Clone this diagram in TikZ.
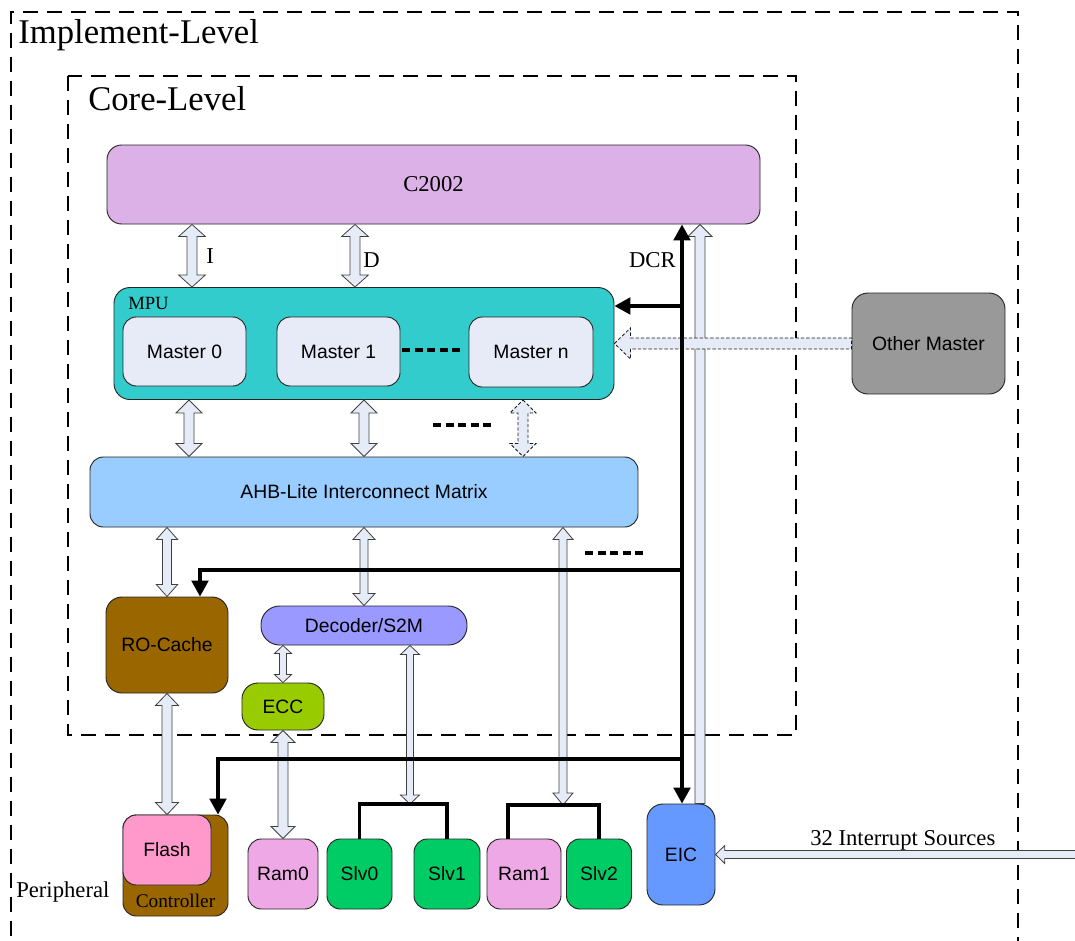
\documentclass[tikz,border=0pt]{standalone}
\usepackage{fontspec}
\setmainfont{Liberation Serif}
\setsansfont{Liberation Sans}
\usetikzlibrary{arrows.meta,calc}
\definecolor{cC}{HTML}{DCB1E7}
\definecolor{cMPU}{HTML}{33CCCC}
\definecolor{cMas}{HTML}{E6EBF7}
\definecolor{cOM}{HTML}{999999}
\definecolor{cAHB}{HTML}{99CCFF}
\definecolor{cBrown}{HTML}{996600}
\definecolor{cDec}{HTML}{9999FF}
\definecolor{cECC}{HTML}{99CC00}
\definecolor{cFlash}{HTML}{FF99CC}
\definecolor{cRam}{HTML}{EFA8E6}
\definecolor{cSlv}{HTML}{00CC66}
\definecolor{cEIC}{HTML}{6699FF}
\definecolor{cArrow}{HTML}{E6ECF7}
\newcommand\vdbl[6][]{\draw[hol,#1] let \p1=(#5),\p2=(#6) in (\x1,\y1) -- (\x1+#3,\y1-#4) -- (\x1+#2,\y1-#4) -- (\x1+#2,\y2+#4) -- (\x1+#3,\y2+#4) -- (\x1,\y2) -- (\x1-#3,\y2+#4) -- (\x1-#2,\y2+#4) -- (\x1-#2,\y1-#4) -- (\x1-#3,\y1-#4) -- cycle;}
\newcommand\vup[6][]{\draw[hol,#1] let \p1=(#5),\p2=(#6) in (\x1,\y1) -- (\x1+#3,\y1-#4) -- (\x1+#2,\y1-#4) -- (\x1+#2,\y2) -- (\x1-#2,\y2) -- (\x1-#2,\y1-#4) -- (\x1-#3,\y1-#4) -- cycle;}
\newcommand\hleft[6][]{\draw[hol,#1] let \p1=(#5),\p2=(#6) in (\x1,\y1) -- (\x1+#4,\y1+#3) -- (\x1+#4,\y1+#2) -- (\x2,\y1+#2) -- (\x2,\y1-#2) -- (\x1+#4,\y1-#2) -- (\x1+#4,\y1-#3) -- cycle;}
\begin{document}
\begin{tikzpicture}[x=0.75pt,y=-0.75pt,
  sz/.style 2 args={minimum width=#1*0.75pt, minimum height=#2*0.75pt},
  blk/.style={draw=black!85, line width=0.7pt, inner sep=0pt, font=\sffamily\fontsize{14.5}{16}\selectfont, rounded corners=10pt},
  level/.style={draw=black, line width=1.5pt, dash pattern=on 11pt off 7pt},
  hol/.style={draw=black!75, fill=cArrow, line width=0.6pt},
  dhol/.style={draw=black!90, dash pattern=on 2.5pt off 1.5pt, line width=0.6pt},
  dcr/.style={draw=black, line width=2.5pt},
  tip/.style={-{Triangle[length=12pt,width=12.5pt]}},
  dots/.style={draw=black, line width=3pt, dash pattern=on 6pt off 3.4pt},
  lbl/.style={inner sep=0pt, font=\fontsize{17}{19}\selectfont}]
\useasboundingbox (0,0) rectangle (1075,940);
% level frames
\draw[level] (11,960) -- (11,12) -- (1018,12) -- (1018,960);
\draw[level] (68,76) rectangle (796,735);
\node[lbl, anchor=base west, font=\fontsize{26}{28}\selectfont] (impl) at (18,43) {Implement-Level};
\node[lbl, anchor=base west, font=\fontsize{26}{28}\selectfont] (core) at (88,110) {Core-Level};
% blocks
\node[blk, sz={653}{79}, fill=cC, rounded corners=11pt, font=\fontsize{17}{19}\selectfont] (C2002) at (433.5,184.5) {C2002};
\node[blk, sz={500}{112}, fill=cMPU, rounded corners=12pt] (MPU) at (364,343.5) {};
\node[lbl, anchor=base west, font=\fontsize{14}{16}\selectfont] (mpul) at (128,309) {MPU};
\node[blk, sz={123}{69}, fill=cMas] (M0) at (184.5,351.5) {Master 0};
\node[blk, sz={123}{69}, fill=cMas] (M1) at (338.5,351.5) {Master 1};
\node[blk, sz={124}{70}, fill=cMas] (Mn) at (531,352) {Master n};
\node[blk, sz={153}{101}, fill=cOM, rounded corners=12pt] (OM) at (928.5,343.5) {Other Master};
\node[blk, sz={548}{70}, fill=cAHB] (AHB) at (364,492) {AHB-Lite Interconnect Matrix};
\node[blk, sz={122}{96}, fill=cBrown, rounded corners=12pt] (ROC) at (167,645) {RO-Cache};
\node[blk, sz={206}{39}, fill=cDec, rounded corners=14pt] (Dec) at (364,625.5) {Decoder/S2M};
\node[blk, sz={82}{47}, fill=cECC, rounded corners=12pt] (ECC) at (283,706.5) {ECC};
\node[blk, sz={105}{101}, fill=cBrown] (FC) at (175.5,865.5) {};
\node[blk, sz={88}{70}, fill=cFlash] (Flash) at (167,850) {Flash};
\node[inner sep=0pt, anchor=base, font=\fontsize{14.5}{16}\selectfont] (ctrl) at (175.5,907) {Controller};
\node[blk, sz={70}{70}, fill=cRam] (Ram0) at (283,874) {Ram0};
\node[blk, sz={65}{70}, fill=cSlv] (Slv0) at (359.5,874) {Slv0};
\node[blk, sz={66}{70}, fill=cSlv] (Slv1) at (447,874) {Slv1};
\node[blk, sz={74}{70}, fill=cRam] (Ram1) at (524,874) {Ram1};
\node[blk, sz={65}{70}, fill=cSlv] (Slv2) at (599,874) {Slv2};
\node[blk, sz={68}{101}, fill=cEIC, rounded corners=12pt] (EIC) at (681,854.5) {EIC};
% labels
\node[lbl, anchor=base west] (Il) at (206,263) {I};
\node[lbl, anchor=base west] (Dl) at (363,267) {D};
\node[lbl, anchor=base east] (DCRl) at (676,267) {DCR};
\node[lbl, anchor=base west] (per) at (16,897) {Peripheral};
\node[lbl, anchor=base west] (intl) at (810,845) {32 Interrupt Sources};
% helper coordinates
\coordinate (xI) at (192,0);
\coordinate (xD) at (355,0);
\coordinate (xa1) at (189,0);
\coordinate (xa2) at (364,0);
\coordinate (xa3) at (523,0);
\coordinate (xb1) at (167,0);
\coordinate (xb3) at (563,0);
\coordinate (xe) at (283,0);
\coordinate (xs) at (410,0);
\coordinate (xh) at (700,0);
\coordinate (xdcr) at (682,0);
\coordinate (xR) at (200,0);
\coordinate (xF) at (218,0);
\coordinate (xr1) at (508,0);
\coordinate (b1) at (410,804);
\coordinate (b2) at (563,805);
\coordinate (j1) at (682,306);
\coordinate (j2) at (682,570);
\coordinate (j3) at (682,759);
\coordinate (src) at (1080,855);
% hollow arrows
\vdbl{3.75pt}{10pt}{9pt}{xI |- C2002.south}{xI |- MPU.north}
\vdbl{3.75pt}{10pt}{9pt}{xD |- C2002.south}{xD |- MPU.north}
\vdbl{3.75pt}{9.75pt}{9.75pt}{xa1 |- MPU.south}{xa1 |- AHB.north}
\vdbl{3.75pt}{9.75pt}{9.75pt}{xa2 |- MPU.south}{xa2 |- AHB.north}
\vdbl[dhol]{3.75pt}{9.75pt}{9.75pt}{xa3 |- MPU.south}{xa3 |- AHB.north}
\vdbl{3.4pt}{8pt}{9pt}{xb1 |- AHB.south}{xb1 |- ROC.north}
\vdbl{3pt}{8.25pt}{9pt}{xa2 |- AHB.south}{xa2 |- Dec.north}
\vdbl{3pt}{7.5pt}{9pt}{xb3 |- AHB.south}{b2}
\vdbl{2.6pt}{6.4pt}{6pt}{xe |- Dec.south}{xe |- ECC.north}
\vdbl{2.6pt}{7.1pt}{6.75pt}{xs |- Dec.south}{b1}
\vdbl{3.75pt}{8.6pt}{9pt}{xb1 |- ROC.south}{xb1 |- Flash.north}
\vdbl{3.75pt}{9pt}{9pt}{xe |- ECC.south}{xe |- Ram0.north}
\vup{3.75pt}{9pt}{9pt}{xh |- C2002.south}{xh |- EIC.north}
\hleft[dhol]{4.1pt}{11.6pt}{12pt}{MPU.east}{OM.west}
\hleft{3pt}{6.75pt}{7pt}{EIC.east}{src}
% dotted ellipses
\draw[dots] (402,350) -- (460,350);
\draw[dots] (433,425) -- (491,425);
\draw[dots] (585,553) -- (643,553);
% DCR bus
\draw[dcr, {Triangle[length=12pt,width=12.5pt]}-{Triangle[length=12pt,width=12.5pt]}] (xdcr |- EIC.north) -- (xdcr |- C2002.south);
\draw[dcr, tip] (j1) -- (j1 -| MPU.east);
\draw[dcr, tip] (j2) -| (xR |- ROC.north);
\draw[dcr, tip] (j3) -| (xF |- FC.north);
% brackets
\draw[dcr] (Slv0.north) |- (b1) -| (Slv1.north);
\draw[dcr] (xr1 |- Ram1.north) |- (b2) -| (Slv2.north);
\end{tikzpicture}
\end{document}
